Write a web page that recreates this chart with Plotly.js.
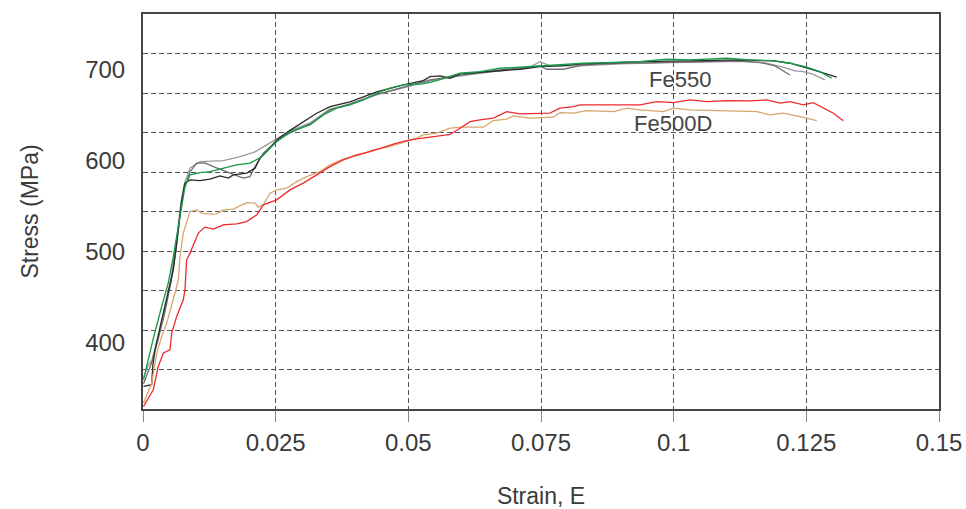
<!DOCTYPE html>
<html>
<head>
<meta charset="utf-8">
<script src="https://cdn.plot.ly/plotly-3.0.1.min.js"></script>
<style>html,body{margin:0;padding:0;background:#fff;}#chart{width:966px;height:509px;}</style>
</head>
<body>
<div id="chart"></div>
<script>
// Fe550 – green specimen
var strainGreen = [0.0001,0.00188,0.00352,0.00477,0.00571,0.00665,0.00729,0.00791,0.00886,0.01074,0.01263,0.01451,0.01766,0.02016,0.02205,0.02361,0.02519,0.0277,0.03147,0.03398,0.0365,0.039,0.04151,0.04404,0.04654,0.04905,0.05282,0.05534,0.05785,0.05974,0.0635,0.06727,0.07104,0.07481,0.07858,0.08297,0.08738,0.09366,0.09869,0.10308,0.11,0.11439,0.11877,0.12192,0.12507,0.12757,0.12978];
var stressGreen = [359,403,439.6,465.7,494.6,527.6,553.7,571.6,584.5,587,588.1,590.8,595.5,597.4,603.2,612,621.1,632.1,639.5,650.5,657.9,661.5,667,674.4,679.9,683.5,684.6,688.2,692.6,696.4,698.1,701.9,703,704.4,705.5,707.4,708,709.1,711.8,711,712.9,711,710.2,707.4,703,698.1,690.9];

// Fe550 – black specimen
var strainBlack = [0.0001,0.00164,0.00183,0.00226,0.00352,0.00477,0.00571,0.00665,0.00729,0.00791,0.00886,0.01074,0.01263,0.01451,0.01607,0.01702,0.01954,0.02111,0.02205,0.02361,0.02519,0.0277,0.03273,0.03524,0.039,0.04404,0.04905,0.05282,0.05408,0.05597,0.05785,0.05974,0.06665,0.07104,0.07481,0.07858,0.08297,0.08862,0.09366,0.10308,0.1125,0.11877,0.12192,0.12631,0.13072];
var stressBlack = [351.6,353.5,373.6,392,425,454.7,480,524,557,575.4,579,578.2,579.8,583.4,580.9,584.5,586.4,591.9,602.9,612,623,633.5,652.4,659.6,664.8,675.8,683.5,688.2,692.6,693.4,690.9,695.6,699.2,700.8,703.6,704.4,706.6,708,709.1,709.9,711,709.9,707.4,700,692];

// Fe550 – mid grey specimen
var strainGrey1 = [0.0001,0.00094,0.0017,0.00283,0.00415,0.00528,0.00622,0.00697,0.00773,0.00886,0.01012,0.01168,0.01325,0.01639,0.0189,0.02016,0.02111,0.02267,0.02519,0.0277,0.03147,0.03524,0.039,0.04404,0.04905,0.05408,0.05974,0.06727,0.07481,0.07608,0.0792,0.08297,0.08989,0.09742,0.105,0.1125,0.11628,0.1191,0.12192];
var stressGrey1 = [354.6,367.8,378.8,403,433.8,466.8,502,540.5,568,587.8,597.4,597.7,593.6,586.4,580.9,582.6,593.6,608.4,621.9,630.7,640.6,656,662.6,673,681.3,689,694,700,704.4,700.8,700.8,705.5,707.2,708.3,709.4,709.9,708.3,704.4,694.5];

// Fe550 – light grey specimen
var strainGrey2 = [0.0001,0.00094,0.0017,0.00283,0.00415,0.00528,0.00622,0.00697,0.00773,0.00886,0.01074,0.01513,0.01828,0.02111,0.02299,0.02519,0.0277,0.03147,0.03524,0.039,0.04404,0.04905,0.05408,0.05974,0.06727,0.07292,0.07481,0.07669,0.08235,0.08989,0.09742,0.105,0.1125,0.11721,0.12041,0.12286,0.12437,0.12607,0.1285];
var stressGrey2 = [361.2,374.4,381,405.2,438.2,471.2,507.5,546,573.5,592.2,599.1,600.2,604.6,609.8,616.4,624.1,632.9,641.7,657.1,662,672.5,680.2,687.9,693.4,698.9,703.3,709.1,704.4,704.4,706.6,707.7,708.8,709.4,707.7,703.3,698.9,698.1,695.6,689];

// Fe500D – red specimen
var strainRed = [0.0001,0.00194,0.00288,0.00383,0.00509,0.00541,0.00635,0.00759,0.00791,0.00823,0.00886,0.0098,0.01042,0.01168,0.01325,0.01513,0.01766,0.01954,0.02143,0.02267,0.02519,0.0277,0.03021,0.03273,0.03524,0.03774,0.04027,0.04278,0.04528,0.04781,0.05031,0.05282,0.05534,0.05785,0.05974,0.06162,0.0635,0.06601,0.06854,0.07104,0.07669,0.07858,0.08109,0.08235,0.08989,0.09366,0.0968,0.09993,0.10308,0.10622,0.11,0.11439,0.11753,0.12004,0.12192,0.12443,0.12631,0.1282,0.13008,0.13197];
var stressRed = [329.6,348,373.6,388.4,392,410.4,428.6,447,458,491,498.4,513,520.4,527,524.8,529.5,530.6,533.1,540.5,551.5,557,568,575.4,584.5,593.6,601,606.5,610.1,615,619.4,623,624.9,627.4,629,635.9,643.1,645,646.9,654.1,651.6,652.4,657.9,659.6,661.5,661.5,661.5,665.1,664,667,665.1,666.2,665.9,667,663.4,665.1,661.5,664,657.9,652.4,644.2];

// Fe500D – tan specimen
var strainTan = [0.0001,0.00164,0.00258,0.00352,0.00447,0.00541,0.00603,0.00665,0.00697,0.00759,0.00823,0.00886,0.01012,0.01106,0.01263,0.01389,0.01513,0.01702,0.01954,0.02111,0.02173,0.02267,0.02393,0.02519,0.02708,0.02896,0.03085,0.03335,0.03524,0.03774,0.04089,0.0434,0.04654,0.04905,0.05158,0.05282,0.05534,0.05785,0.06036,0.06413,0.06601,0.06854,0.06978,0.07293,0.07732,0.07858,0.08109,0.08361,0.08862,0.09115,0.09366,0.09805,0.09993,0.10308,0.10935,0.11565,0.11815,0.12066,0.1238,0.12695];
var stressTan = [333.4,355.4,388.4,406.6,421.4,439.6,454.4,469,494.6,520.4,531.4,544.1,546,542.4,541.3,541.6,546,546.8,554,553.4,549,551.5,564.4,568,569.9,577.1,582.6,588.1,595.5,601.8,606.5,612,615.6,620,624.9,628.5,630.4,635.9,637,637,644.2,645.8,649.4,646.9,648,653,652.4,655.2,654.1,657.9,656,654.1,657.9,656,655.2,654.1,650.5,652.4,648.6,644.2];

var yTickVals = [400, 500, 600, 700];
var yTickText = ['400', '500', '600', '700'];
var xTickVals = [0, 0.025, 0.05, 0.075, 0.1, 0.125, 0.15];
var xTickText = ['0', '0.025', '0.05', '0.075', '0.1', '0.125', '0.15'];
var labelNames = ['Fe550', 'Fe500D'];
var labelPos = [[0.1012, 689], [0.0998, 641.5]];

function line(x, y, color, w) {
  return {x: x, y: y, type: 'scatter', mode: 'lines', hoverinfo: 'skip',
          line: {color: color, width: w || 1.3}, showlegend: false};
}

var traces = [
  line(strainGrey2, stressGrey2, '#9a9a9a'),
  line(strainGrey1, stressGrey1, '#6f6f6f'),
  line(strainBlack, stressBlack, '#2a2a2a'),
  line(strainGreen, stressGreen, '#159a48'),
  line(strainTan, stressTan, '#d5a76c'),
  line(strainRed, stressRed, '#ee2a2f'),
  {x: [], y: [], yaxis: 'y2', type: 'scatter', mode: 'lines', showlegend: false, hoverinfo: 'skip'}
];

var tickFont = {family: 'Liberation Sans, Arial, sans-serif', size: 24, color: '#3a3a3a'};
var layout = {
  width: 966, height: 509,
  margin: {l: 143, r: 27, t: 14, b: 100, pad: 0},
  paper_bgcolor: '#ffffff', plot_bgcolor: '#ffffff',
  showlegend: false,
  xaxis: {
    range: [0, 0.15], tickvals: xTickVals, ticktext: xTickText,
    showgrid: true, gridcolor: '#555555', griddash: '5px,3px', gridwidth: 1,
    ticks: 'outside', ticklen: 11, tickcolor: '#888888', tickwidth: 1,
    ticklabelstandoff: 0,
    showline: true, linecolor: '#444444', linewidth: 2, mirror: true,
    zeroline: false, tickfont: tickFont,
    title: {text: 'Strain, E', font: {family: 'Liberation Sans, Arial, sans-serif', size: 23, color: '#3a3a3a'}, standoff: 44}
  },
  yaxis: {
    range: [326.8, 761.6], tickvals: yTickVals, ticktext: yTickText,
    showgrid: false, ticks: '', ticklabelstandoff: 11,
    showline: true, linecolor: '#444444', linewidth: 2, mirror: true,
    zeroline: false, tickfont: tickFont,
    title: {text: 'Stress (MPa)', font: {family: 'Liberation Sans, Arial, sans-serif', size: 23, color: '#3a3a3a'}, standoff: 40}
  },
  yaxis2: {
    overlaying: 'y', range: [0, 10], dtick: 1, tick0: 0,
    showgrid: true, gridcolor: '#555555', griddash: '5px,3px', gridwidth: 1,
    showticklabels: false, ticks: '', zeroline: false, showline: false,
    fixedrange: true
  },
  annotations: labelNames.map(function (t, i) {
    return {x: labelPos[i][0], y: labelPos[i][1], xref: 'x', yref: 'y', text: t,
            showarrow: false, xanchor: 'center', yanchor: 'middle',
            font: {family: 'Liberation Sans, Arial, sans-serif', size: 22, color: '#444444'}};
  })
};

Plotly.newPlot('chart', traces, layout, {displayModeBar: false, staticPlot: true});
</script>
</body>
</html>
